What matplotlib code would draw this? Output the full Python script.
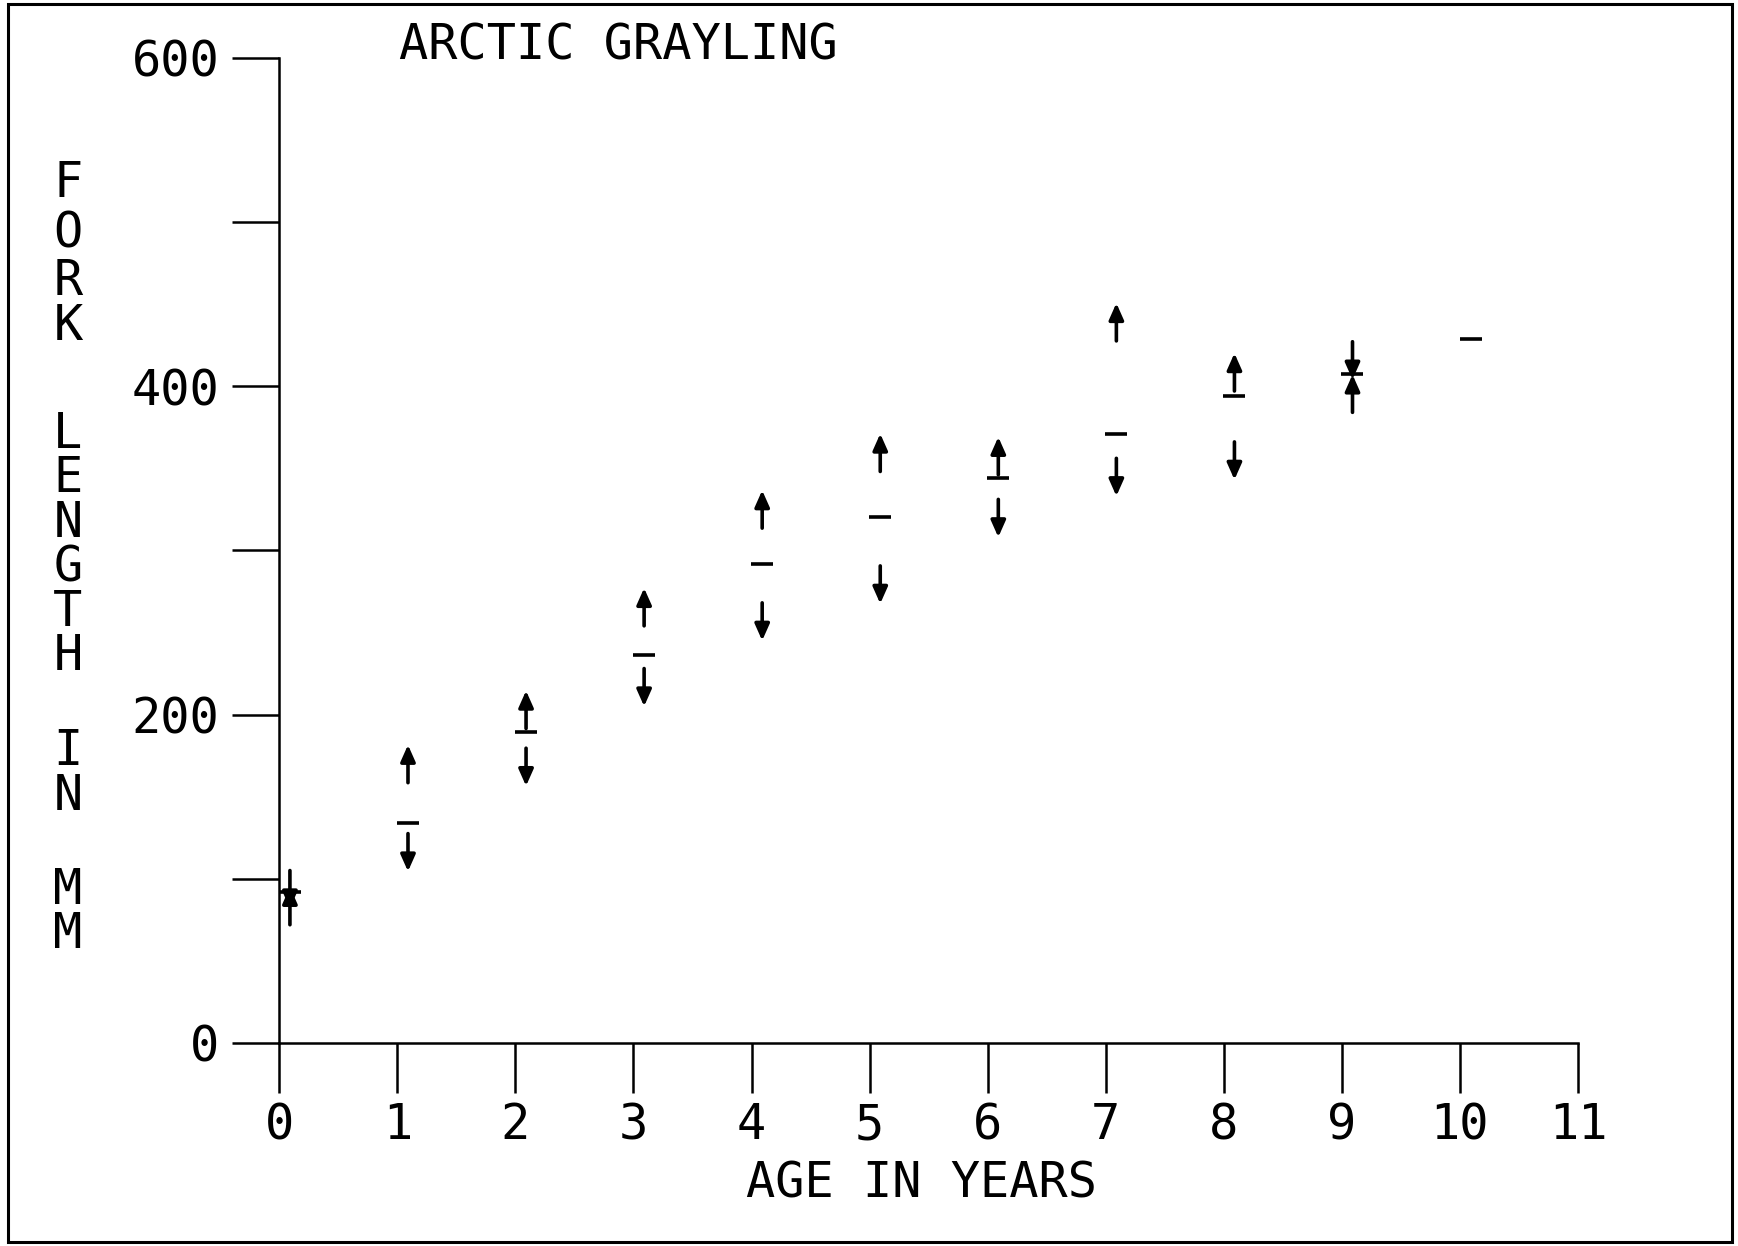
import numpy as np
import matplotlib
matplotlib.use("Agg")
import matplotlib.pyplot as plt
from matplotlib.patches import Rectangle

# ---- data ----
ages = [0, 1, 2, 3, 4, 5, 6, 7, 8, 9, 10]
mean_len = [92, 134, 189.5, 236, 291.5, 320, 344, 371, 394, 407.5, 428.5]
upper_len = [95, 181.5, 214.5, 277, 336.5, 371, 369, 450.5, 420, 407, np.nan]
lower_len = [82, 104.5, 156.5, 205, 245, 267.5, 308, 333, 343, 404, np.nan]

x_ticks = list(range(0, 12))
y_ticks = [0, 100, 200, 300, 400, 500, 600]
y_ticklabels = ["0", "", "200", "", "400", "", "600"]
title = "ARCTIC GRAYLING"
xlabel = "AGE IN YEARS"
ylabel = "FORK LENGTH IN MM"

# ---- style ----
W, H = 1738, 1246
DPI = 100
FONT = ["DejaVu Sans Mono", "DejaVu Sans"]
FS = 35
x_offset = 0.09     # markers sit slightly right of the integer age
arrow_len = 23      # mm, shaft length of the range arrows

plt.rcParams["font.family"] = FONT

fig = plt.figure(figsize=(W / DPI, H / DPI), dpi=DPI)
fig.patch.set_facecolor("white")

x0, x1 = 279.3, 1578.0
ytop, ybot = 57.6, 1043.0
ax = fig.add_axes([x0 / W, 1 - ybot / H, (x1 - x0) / W, (ybot - ytop) / H])
ax.set_xlim(0, 11)
ax.set_ylim(0, 600)
for s in ("top", "right"):
    ax.spines[s].set_visible(False)
for s in ("left", "bottom"):
    ax.spines[s].set_linewidth(1.8)
    ax.spines[s].set_color("black")

ax.set_xticks(x_ticks)
ax.set_xticklabels([str(t) for t in x_ticks])
ax.set_yticks(y_ticks)
ax.set_yticklabels(y_ticklabels)
ax.tick_params(axis="x", direction="out", length=36, width=1.8, pad=6,
               labelsize=FS, colors="black")
ax.tick_params(axis="y", direction="out", length=34, width=1.8, pad=9,
               labelsize=FS, colors="black")
for lab in ax.get_xticklabels() + ax.get_yticklabels():
    lab.set_family(FONT)

xs = np.array(ages, dtype=float) + x_offset

# mean dashes
ax.plot(xs, mean_len, linestyle="none", marker="_", markersize=16,
        markeredgewidth=2.6, color="black", clip_on=False)

# range arrows (tip at upper / lower value)
astyle = "-|>,head_length=0.45,head_width=0.2"
for x, up, lo in zip(xs, upper_len, lower_len):
    if not np.isnan(up):
        ax.annotate("", xy=(x, up), xytext=(x, up - arrow_len),
                    arrowprops=dict(arrowstyle=astyle, lw=2.6, color="black",
                                    mutation_scale=22, shrinkA=0, shrinkB=0))
    if not np.isnan(lo):
        ax.annotate("", xy=(x, lo), xytext=(x, lo + arrow_len),
                    arrowprops=dict(arrowstyle=astyle, lw=2.6, color="black",
                                    mutation_scale=22, shrinkA=0, shrinkB=0))

# title and x label
fig.text(399 / W, 1 - 60 / H, title, ha="left", va="baseline",
         fontsize=FS, family=FONT)
fig.text(921 / W, 1 - 1197 / H, xlabel, ha="center", va="baseline",
         fontsize=FS, family=FONT)

# stacked y label letters (pixel centres from the top of the figure)
letter_y = [179, 229, 277, 322, None, 430, 474.5, 519, 563.5, 608, 652.5,
            None, 747, 791.5, None, 886, 930.5]
for ch, yc in zip(ylabel, letter_y):
    if yc is None or ch == " ":
        continue
    fig.text(68 / W, 1 - (yc + 18) / H, ch, ha="center", va="baseline",
             fontsize=FS, family=FONT)

# outer frame
fig.patches.append(Rectangle((8 / W, 1 - 1242 / H), (1732 - 8) / W, (1242 - 4) / H,
                             transform=fig.transFigure, fill=False,
                             edgecolor="black", linewidth=2.2))

fig.savefig("out.png", dpi=DPI, facecolor="white")
